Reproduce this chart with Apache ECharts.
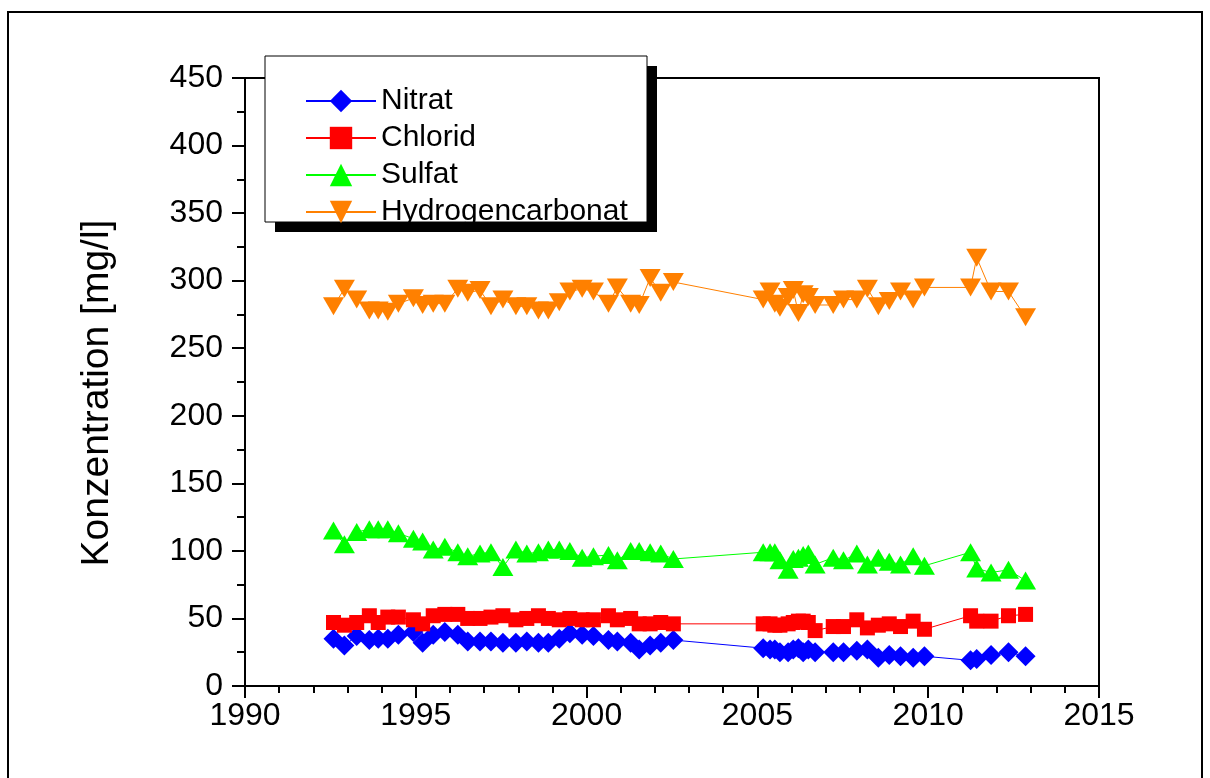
<!DOCTYPE html>
<html>
<head>
<meta charset="utf-8">
<script src="https://cdn.jsdelivr.net/npm/echarts@6/dist/echarts.min.js"></script>
<style>html,body{margin:0;padding:0;background:#fff}#c{width:1210px;height:778px}</style>
</head>
<body>
<div id="c"></div>
<script>
const years = [1992.59,1992.91,1993.27,1993.64,1993.90,1994.18,1994.49,1994.93,1995.20,1995.51,1995.85,1996.23,1996.52,1996.88,1997.20,1997.55,1997.93,1998.25,1998.59,1998.88,1999.20,1999.51,1999.87,2000.20,2000.64,2000.90,2001.29,2001.54,2001.86,2002.17,2002.54,
  2005.17,2005.37,2005.51,2005.66,2005.90,2006.05,2006.20,2006.34,2006.49,2006.69,2007.22,2007.52,2007.91,2008.22,2008.54,2008.86,2009.19,2009.56,2009.89,
  2011.24,2011.42,2011.84,2012.35,2012.85];
const nitrat = [35,30,37,34,35,35,38,40,32,38,40,38,33,33,33,32,32,33,32,32,35,39,38,37,34,33,32,27,30,32,34,
  28,27,27,25,25,27,28,25,27,25,25,25,26,27,21,23,22,21,22,
  19,20,23,25,22];
const chlorid = [47,45,47,52,47,51,51,49,46,52,53,53,50,50,51,52,49,50,52,50,49,50,49,49,52,49,50,46,46,47,46,
  46,46,45,45,46,47,48,48,47,41,44,44,49,43,45,46,44,48,42,
  52,48,48,52,53];
const sulfat = [115,105,114,116,116,116,113,109,107,101,103,99,96,98,99,88,101,98,99,101,101,100,95,96,97,93,100,100,99,98,94,
  99,99,99,93,86,94,95,97,98,90,95,93,98,90,95,92,90,96,89,
  99,87,84,86,78];
const hydrogencarbonat = [281,294,286,278,278,277,283,287,282,283,283,294,291,293,281,286,281,281,278,278,284,292,294,292,283,295,283,282,302,291,299,
  286,292,283,280,288,293,276,290,288,282,282,286,286,294,281,285,292,286,295,
  295,317,292,292,273];
const seriesNames = ['Nitrat','Chlorid','Sulfat','Hydrogencarbonat'];
const xTicks = [1990,1995,2000,2005,2010,2015];
const yTitle = 'Konzentration [mg/l]';

const FONT = '"Liberation Sans", Arial, Helvetica, sans-serif';
const pairs = arr => years.map((y,i)=>[y,arr[i]]);

const chart = echarts.init(document.getElementById('c'), null, {renderer:'canvas'});
const mk = (name, data, color, symbol, size, rotate) => ({
  name, type:'line', data: pairs(data),
  symbol, symbolSize: size, symbolRotate: rotate || 0,
  lineStyle:{color, width:1}, itemStyle:{color},
  showSymbol:true, animation:false
});
chart.setOption({
  animation:false,
  backgroundColor:'#fff',
  textStyle:{fontFamily:FONT},
  grid:{left:245, top:78, width:854, height:608, show:true, borderColor:'#000', borderWidth:2, backgroundColor:'transparent'},
  xAxis:{
    type:'value', min:xTicks[0], max:xTicks[xTicks.length-1], interval:5,
    axisLine:{show:true, onZero:false, lineStyle:{color:'#000', width:2}},
    axisTick:{show:true, length:12, lineStyle:{color:'#000', width:2}},
    minorTick:{show:true, splitNumber:5, length:7, lineStyle:{color:'#000', width:2}},
    splitLine:{show:false},
    axisLabel:{color:'#000', fontSize:32, margin:14, fontFamily:FONT, formatter: v => String(v)}
  },
  yAxis:{
    type:'value', min:0, max:450, interval:50,
    axisLine:{show:true, onZero:false, lineStyle:{color:'#000', width:2}},
    axisTick:{show:true, length:13, lineStyle:{color:'#000', width:2}},
    minorTick:{show:true, splitNumber:2, length:8, lineStyle:{color:'#000', width:2}},
    splitLine:{show:false},
    axisLabel:{color:'#000', fontSize:32, margin:22, fontFamily:FONT}
  },
  legend:{
    orient:'vertical', left:300, top:81, itemWidth:70, itemHeight:28, itemGap:7,
    data: seriesNames,
    textStyle:{color:'#000', fontSize:30, fontFamily:FONT, lineHeight:28},
    z:20
  },
  graphic:[
    {type:'rect', shape:{x:8,y:12,width:1194,height:800}, style:{fill:'none', stroke:'#000', lineWidth:2}, z:0},
    {type:'rect', shape:{x:275,y:66,width:382,height:166}, style:{fill:'#000'}, z:10},
    {type:'rect', shape:{x:265,y:56,width:382,height:166}, style:{fill:'#fff', stroke:'#000', lineWidth:1}, z:11},
    {type:'text', x:97, y:393, rotation:Math.PI/2,
      style:{text:yTitle, fill:'#000', font:'39px ' + FONT, align:'center', verticalAlign:'middle'}, z:5}
  ],
  series:[
    mk(seriesNames[0], nitrat, '#0000FF', 'diamond', 20),
    mk(seriesNames[1], chlorid, '#FF0000', 'rect', 15),
    mk(seriesNames[2], sulfat, '#00FF00', 'triangle', [21,18]),
    mk(seriesNames[3], hydrogencarbonat, '#FF8000', 'triangle', [21,18], 180)
  ]
});
</script>
</body>
</html>
